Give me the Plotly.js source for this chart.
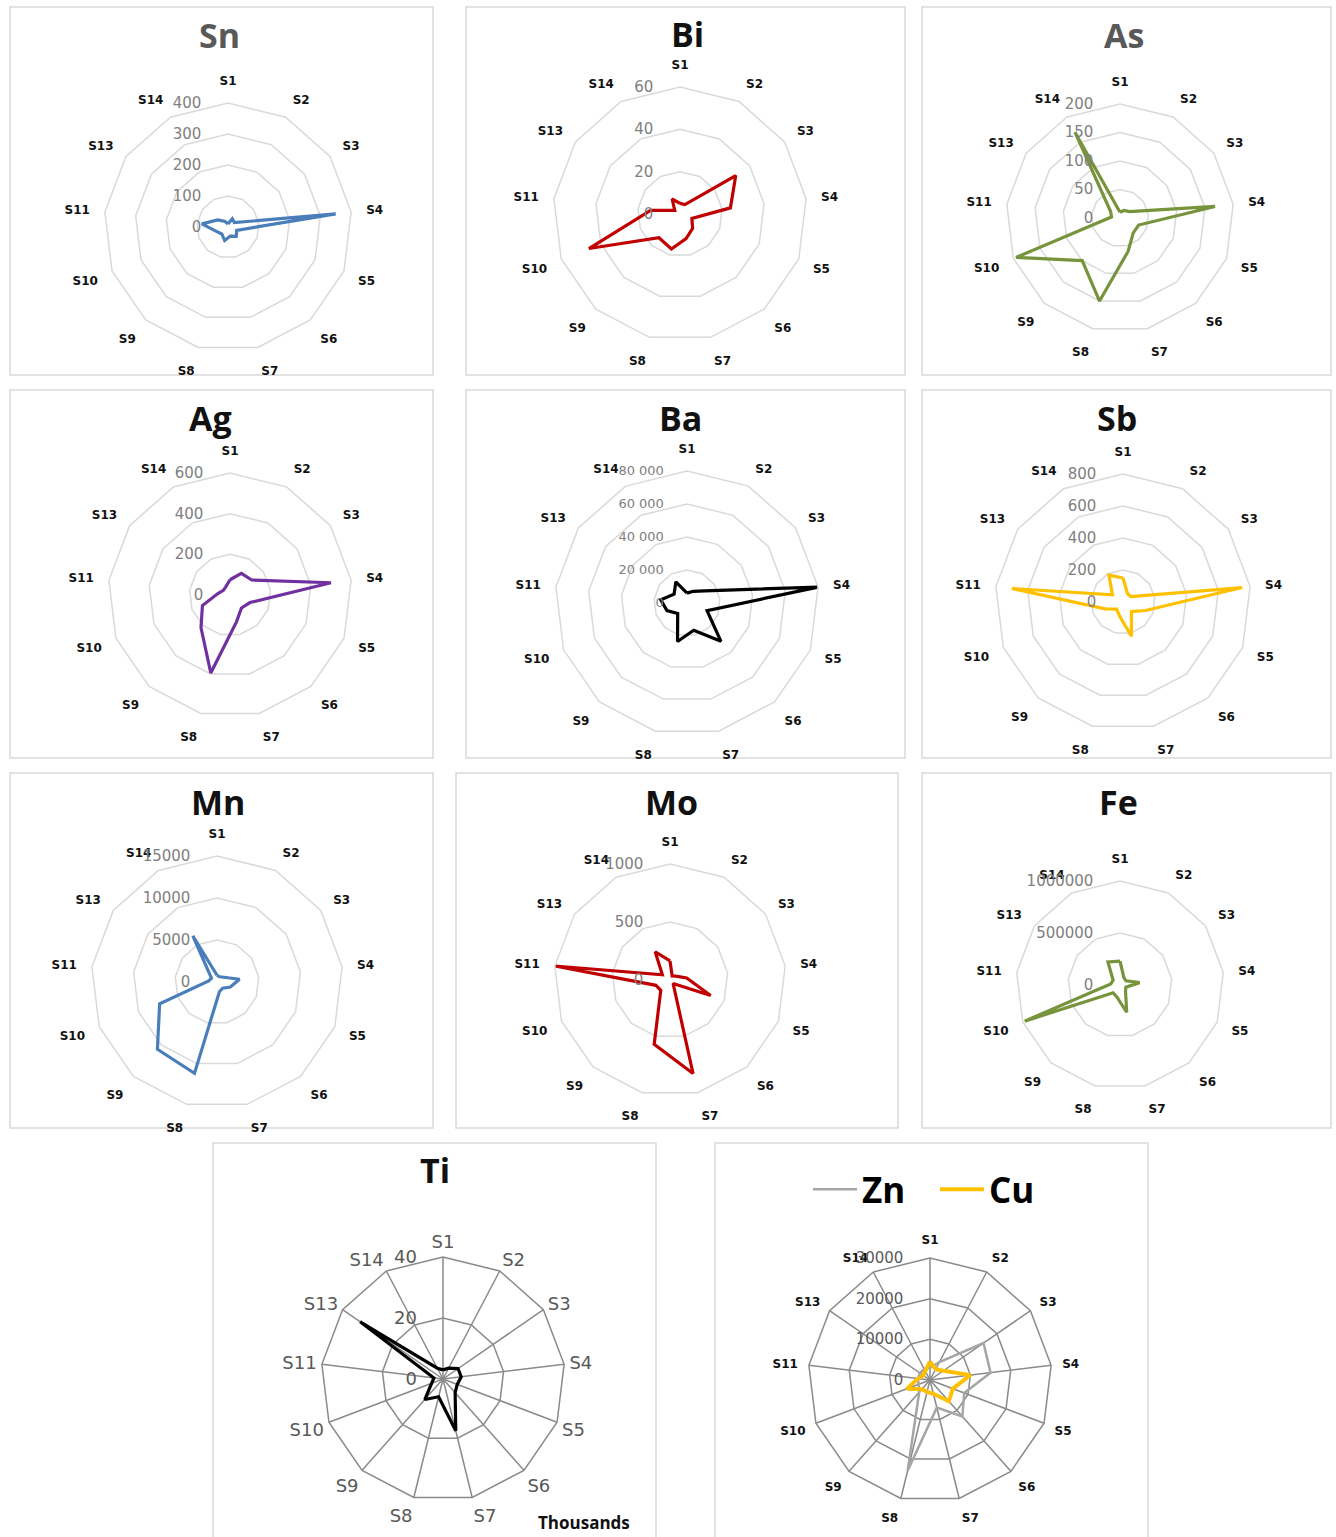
<!DOCTYPE html>
<html><head><meta charset="utf-8">
<script src="https://cdn.plot.ly/plotly-3.0.1.min.js"></script>
<style>html,body{margin:0;padding:0;background:#fff}#chart{width:1336px;height:1537px}</style>
</head><body><div id="chart"></div>
<script>
const W = 1336, H = 1537;

// ---------- DATA ----------
const categories = ['S1','S2','S3','S4','S5','S6','S7','S8','S9','S10','S11','S13','S14'];

const snVals = [10, 30, 25, 350, 30, 40, 30, 45, 30, 40, 85, 40, 20];
const biVals = [5, 5, 32, 24, 6, 9, 12, 17, 15, 46, 14, 3, 8];
const asVals = [10, 15, 20, 168, 35, 35, 60, 150, 100, 195, 15, 20, 170];
const agVals = [75, 120, 130, 500, 105, 85, 135, 395, 215, 145, 60, 40, 45];
const baVals = [6000, 8000, 13000, 80000, 13000, 31000, 17000, 24000, 8500, 13000, 16000, 9500, 14500];
const sbVals = [150, 60, 60, 750, 150, 80, 220, 90, 60, 120, 700, 80, 190];
const mnVals = [800, 700, 1000, 2700, 1700, 1000, 1200, 11200, 10700, 7300, 1000, 800, 6200];
const moVals = [165, 40, 60, 145, 375, 40, 830, 570, 120, 130, 1000, 80, 275];
const feVals = [230000, 80000, 70000, 190000, 60000, 80000, 270000, 120000, 100000, 980000, 90000, 80000, 250000];
const tiVals = [3000, 4000, 6000, 6000, 5000, 6000, 17500, 6000, 9000, 4000, 3000, 33000, 4000];
const znVals = [3000, 5000, 16000, 15000, 9000, 12000, 7000, 23000, 4000, 3000, 3000, 3000, 3000];
const cuVals = [4500, 3000, 4000, 10000, 6000, 7000, 3500, 3000, 3000, 6000, 3000, 2000, 2500];

const snTicks = [0, 100, 200, 300, 400];
const biTicks = [0, 20, 40, 60];
const asTicks = [0, 50, 100, 150, 200];
const agTicks = [0, 200, 400, 600];
const baTicks = [0, 20000, 40000, 60000, 80000];
const baTickText = ['0', '20 000', '40 000', '60 000', '80 000'];
const sbTicks = [0, 200, 400, 600, 800];
const mnTicks = [0, 5000, 10000, 15000];
const moTicks = [0, 500, 1000];
const feTicks = [0, 500000, 1000000];
const tiTicks = [0, 20000, 40000];
const tiTickText = ['0', '20', '40'];
const znCuTicks = [0, 10000, 20000, 30000];

// ---------- LAYOUT CONFIG ----------
function fx(px) { return px / W; }
function fy(py) { return 1 - py / H; }

const TICK_FONT = 'DejaVu Sans, sans-serif';
const TITLE_FONT = '"Open Sans", Lato, sans-serif';
const GAP = 22;
// radial tick labels are right-aligned at the axis; pad them away from it
function padLabel(t, fs) {
  const n = Math.max(1, Math.round(GAP / (0.318 * fs)));
  return t + '\u00a0'.repeat(n);
}

const panels = [
  {name:'Sn', vals:snVals, ticks:snTicks, color:'#4a7ebb', cx:228, cy:227, r:124, box:[10,7,433,375], tx:219, ty:35, tcol:'#595959'},
  {name:'Bi', vals:biVals, ticks:biTicks, color:'#c00000', cx:680, cy:214, r:127, box:[466,7,905,375], tx:688, ty:34, tcol:'#111'},
  {name:'As', vals:asVals, ticks:asTicks, color:'#77933c', cx:1120, cy:218, r:114, box:[922,7,1331,375], tx:1124, ty:35, tcol:'#595959'},
  {name:'Ag', vals:agVals, ticks:agTicks, color:'#7030a0', cx:230, cy:595, r:122, box:[10,390,433,758], tx:210, ty:418, tcol:'#111'},
  {name:'Ba', vals:baVals, ticks:baTicks, ticktext:baTickText, color:'#000000', cx:687, cy:603, r:132, box:[466,390,905,758], tx:680, ty:418, tcol:'#111', tsize:13},
  {name:'Sb', vals:sbVals, ticks:sbTicks, color:'#ffc000', cx:1123, cy:602, r:128, box:[922,390,1331,758], tx:1117, ty:418, tcol:'#111'},
  {name:'Mn', vals:mnVals, ticks:mnTicks, color:'#4a7ebb', cx:217, cy:982, r:126, box:[10,773,433,1128], tx:218, ty:802, tcol:'#111'},
  {name:'Mo', vals:moVals, ticks:moTicks, color:'#c00000', cx:670, cy:980, r:116, box:[456,773,898,1128], tx:671, ty:802, tcol:'#111'},
  {name:'Fe', vals:feVals, ticks:feTicks, color:'#77933c', cx:1120, cy:985, r:104, box:[922,773,1331,1128], tx:1118, ty:802, tcol:'#111'},
  {name:'Ti', vals:tiVals, ticks:tiTicks, ticktext:tiTickText, color:'#000000', cx:443, cy:1379, r:122, box:[213,1143,656,1545], tx:435, ty:1170, tcol:'#111', dark:true}
];
const znPanel = {cx:930, cy:1380, r:122, box:[715,1143,1148,1545]};

const traces = [];
const layout = {
  width: W, height: H,
  margin: {l:0, r:0, t:0, b:0},
  paper_bgcolor: '#ffffff',
  plot_bgcolor: '#ffffff',
  font: {family: TICK_FONT, color: '#000'},
  shapes: [],
  annotations: [],
  showlegend: true,
  legend: {
    orientation: 'h', x: fx(808), y: fy(1160), xanchor: 'left', yanchor: 'top',
    font: {family: TITLE_FONT, size: 35, weight: 'bold', color: '#000'},
    bgcolor: 'rgba(0,0,0,0)', itemwidth: 44, tracegroupgap: 0,
    entrywidth: 68, entrywidthmode: 'pixels'
  }
};

function closed(arr) { return arr.concat([arr[0]]); }

function polarLayout(p, dark, ticks, ticktext, tsize, ticklen) {
  const gridc = dark ? '#8a8a8a' : '#d9d9d9';
  const fs = tsize || 15;
  const txt = (ticktext || ticks.map(String)).map(t => padLabel(t, fs));
  return {
    domain: {x: [fx(p.cx - p.r), fx(p.cx + p.r)], y: [fy(p.cy + p.r), fy(p.cy - p.r)]},
    bgcolor: 'rgba(0,0,0,0)',
    gridshape: 'linear',
    radialaxis: {
      range: [0, ticks[ticks.length - 1]],
      tickvals: ticks,
      ticktext: txt,
      angle: 90,
      side: 'counterclockwise',
      tickangle: 90,
      showline: false,
      ticks: '',
      gridcolor: gridc,
      gridwidth: 1.5,
      tickfont: {family: TICK_FONT, size: fs, color: dark ? '#595959' : '#808080'}
    },
    angularaxis: {
      type: 'category',
      categoryarray: categories,
      direction: 'clockwise',
      rotation: 90,
      showgrid: !!dark,
      gridcolor: gridc,
      gridwidth: 1.5,
      showline: true,
      linecolor: gridc,
      linewidth: 1.5,
      ticks: 'outside',
      ticklen: ticklen,
      tickcolor: 'rgba(0,0,0,0)',
      tickfont: dark ? {family: TICK_FONT, size: 18, color: '#595959'}
                     : {family: TICK_FONT, size: 12, weight: 'bold', color: '#111'}
    }
  };
}

panels.forEach((p, i) => {
  const key = i === 0 ? 'polar' : 'polar' + (i + 1);
  layout[key] = polarLayout(p, p.dark, p.ticks, p.ticktext, p.dark ? 18 : p.tsize, p.dark ? 1 : 12);
  traces.push({
    type: 'scatterpolar', mode: 'lines', subplot: key,
    r: closed(p.vals), theta: closed(categories),
    line: {color: p.color, width: 3.2}, showlegend: false, name: p.name
  });
  layout.shapes.push({type: 'rect', xref: 'paper', yref: 'paper',
    x0: fx(p.box[0]), x1: fx(p.box[2]), y0: fy(p.box[3]), y1: fy(p.box[1]),
    line: {color: '#d9d9d9', width: 1.5}, fillcolor: 'rgba(0,0,0,0)', layer: 'below'});
  layout.annotations.push({xref: 'paper', yref: 'paper', x: fx(p.tx), y: fy(p.ty),
    xanchor: 'center', yanchor: 'middle', showarrow: false, text: p.name,
    font: {family: TITLE_FONT, size: 34, weight: 'bold', color: p.tcol}});
});

// Zn / Cu panel
const znKey = 'polar' + (panels.length + 1);
layout[znKey] = polarLayout(znPanel, true, znCuTicks, null, 15, 8);
layout[znKey].radialaxis.tickfont = {family: TICK_FONT, size: 15, color: '#595959'};
layout[znKey].angularaxis.tickfont = {family: TICK_FONT, size: 12, weight: 'bold', color: '#111'};
traces.push({type: 'scatterpolar', mode: 'lines', subplot: znKey,
  r: closed(znVals), theta: closed(categories),
  line: {color: '#a5a5a5', width: 2.5}, name: 'Zn', showlegend: true});
traces.push({type: 'scatterpolar', mode: 'lines', subplot: znKey,
  r: closed(cuVals), theta: closed(categories),
  line: {color: '#ffc000', width: 4}, name: 'Cu', showlegend: true});
layout.shapes.push({type: 'rect', xref: 'paper', yref: 'paper',
  x0: fx(znPanel.box[0]), x1: fx(znPanel.box[2]), y0: fy(znPanel.box[3]), y1: fy(znPanel.box[1]),
  line: {color: '#d9d9d9', width: 1.5}, fillcolor: 'rgba(0,0,0,0)', layer: 'below'});

layout.annotations.push({xref: 'paper', yref: 'paper', x: fx(584), y: fy(1522),
  xanchor: 'center', yanchor: 'middle', showarrow: false, text: 'Thousands',
  font: {family: TITLE_FONT, size: 17, weight: 'bold', color: '#111'}});

Plotly.newPlot('chart', traces, layout, {displayModeBar: false, staticPlot: true});
</script>
</body></html>
